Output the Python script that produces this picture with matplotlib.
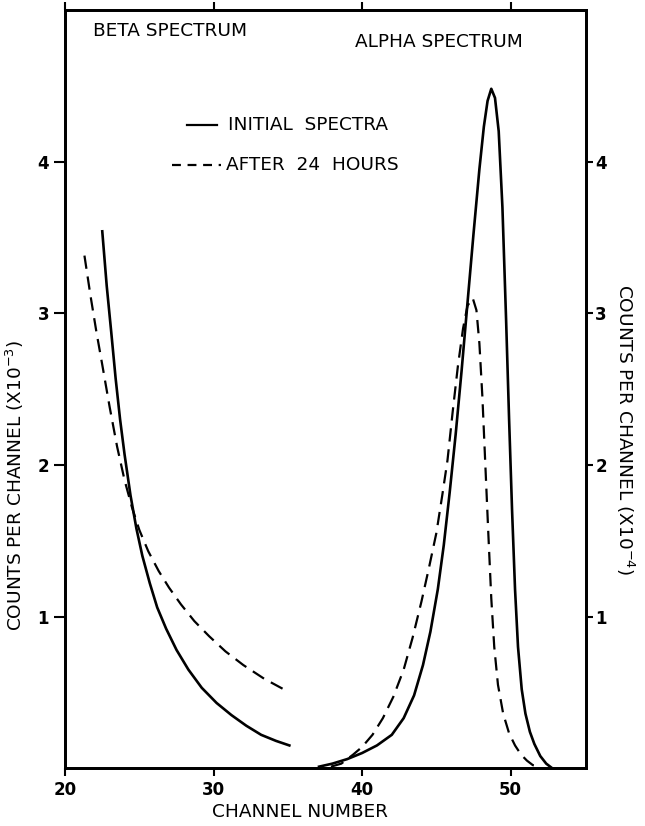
import numpy as np
import matplotlib.pyplot as plt

# beta spectrum (left scale, x10^-3)
beta_ch_init = [22.5, 22.8, 23.1, 23.4, 23.7, 24.0, 24.4, 24.8, 25.2, 25.7, 26.2,
                26.8, 27.5, 28.3, 29.2, 30.2, 31.2, 32.2, 33.2, 34.2, 35.1]
beta_init = [3.54, 3.18, 2.88, 2.57, 2.30, 2.07, 1.80, 1.58, 1.40, 1.22, 1.06,
             0.92, 0.78, 0.65, 0.53, 0.43, 0.35, 0.28, 0.22, 0.18, 0.15]

beta_ch_24h = [21.3, 21.7, 22.1, 22.5, 23.0, 23.5, 24.0, 24.5, 25.0, 25.6, 26.3,
               27.0, 27.8, 28.7, 29.7, 30.8, 32.0, 33.4, 35.1]
beta_24h = [3.38, 3.12, 2.88, 2.66, 2.38, 2.12, 1.90, 1.72, 1.57, 1.43, 1.30,
            1.19, 1.08, 0.97, 0.87, 0.77, 0.68, 0.59, 0.50]

# alpha spectrum (right scale, x10^-4)
alpha_ch_init = [37.1, 38.0, 39.0, 40.0, 41.0, 42.0, 42.8, 43.5, 44.1, 44.6, 45.1,
                 45.5, 45.9, 46.3, 46.7, 47.1, 47.5, 47.9, 48.2, 48.45, 48.7, 48.95,
                 49.2, 49.45, 49.7, 49.9, 50.1, 50.3, 50.5, 50.75, 51.0, 51.3, 51.6,
                 52.0, 52.4, 52.8]
alpha_init = [0.01, 0.03, 0.06, 0.10, 0.15, 0.22, 0.33, 0.48, 0.68, 0.90, 1.18,
              1.47, 1.82, 2.20, 2.62, 3.07, 3.52, 3.95, 4.23, 4.40, 4.48, 4.42,
              4.20, 3.70, 2.95, 2.30, 1.70, 1.18, 0.80, 0.52, 0.36, 0.24, 0.16,
              0.08, 0.03, 0.0]

alpha_ch_24h = [37.9, 38.6, 39.4, 40.0, 40.7, 41.4, 42.1, 42.8, 43.4, 44.0, 44.5,
                45.0, 45.4, 45.75, 46.1, 46.45, 46.8, 47.1, 47.45, 47.7, 47.9, 48.1,
                48.3, 48.5, 48.7, 48.9, 49.15, 49.5, 49.9, 50.3, 50.7, 51.1, 51.5,
                52.0]
alpha_24h = [0.01, 0.03, 0.09, 0.14, 0.22, 0.33, 0.47, 0.65, 0.86, 1.10, 1.32,
             1.55, 1.80, 2.03, 2.35, 2.65, 2.90, 3.05, 3.10, 3.02, 2.80, 2.45,
             2.00, 1.55, 1.12, 0.80, 0.55, 0.36, 0.23, 0.15, 0.09, 0.05, 0.02,
             0.01]

x_ticks = [20, 30, 40, 50]
y_ticks = [1, 2, 3, 4]

plt.rcParams['font.family'] = ['Liberation Sans Narrow', 'DejaVu Sans']

fig = plt.figure(figsize=(6.45, 8.26), dpi=100)
ax = fig.add_axes([0.101, 0.070, 0.808, 0.918])

lw = 1.9
dash = (6, 3.5)
ax.plot(beta_ch_init, beta_init, 'k-', lw=lw)
ax.plot(beta_ch_24h, beta_24h, 'k--', lw=1.6, dashes=dash)
ax.plot(alpha_ch_init, alpha_init, 'k-', lw=lw)
ax.plot(alpha_ch_24h, alpha_24h, 'k--', lw=1.6, dashes=dash)

ax.set_xlim(20, 55.1)
ax.set_ylim(0, 5.0)
ax.set_xticks(x_ticks)
ax.set_yticks(y_ticks)
ax.tick_params(direction='out', length=6, width=1.5, labelsize=12, top=True)
ax.tick_params(axis='y', length=8)
for lab in ax.get_xticklabels() + ax.get_yticklabels():
    lab.set_fontweight('bold')
for s in ax.spines.values():
    s.set_linewidth(2)

ax.set_xlabel('CHANNEL NUMBER', fontsize=13.3)
ax.xaxis.set_label_coords(0.45, -0.046)
ax.set_ylabel('COUNTS PER CHANNEL (X10$^{-3}$)', fontsize=13.3)
ax.yaxis.set_label_coords(-0.075, 0.373)

ax2 = ax.twinx()
ax2.set_ylim(0, 5.0)
ax2.set_yticks(y_ticks)
ax2.tick_params(direction='out', length=5, width=1.5, labelsize=12, pad=1.5)
for lab in ax2.get_yticklabels():
    lab.set_fontweight('bold')
ax2.set_ylabel('COUNTS PER CHANNEL (X10$^{-4}$)', fontsize=13.3, rotation=-90,
               va='center')
ax2.yaxis.set_label_coords(1.075, 0.446)
for s in ax2.spines.values():
    s.set_linewidth(2)

ax.text(21.9, 4.86, 'BETA SPECTRUM', fontsize=13.3, va='center')
ax.text(39.5, 4.79, 'ALPHA SPECTRUM', fontsize=13.3, va='center')

# legend drawn by hand like the original
ax.plot([28.2, 30.2], [4.24, 4.24], 'k-', lw=1.6)
ax.text(31.0, 4.24, 'INITIAL  SPECTRA', fontsize=13.3, va='center')
ax.plot([27.2, 30.5], [3.98, 3.98], 'k--', lw=1.6, dashes=(4, 3))
ax.text(30.8, 3.98, 'AFTER  24  HOURS', fontsize=13.3, va='center')

fig.savefig('out.png', dpi=100)
